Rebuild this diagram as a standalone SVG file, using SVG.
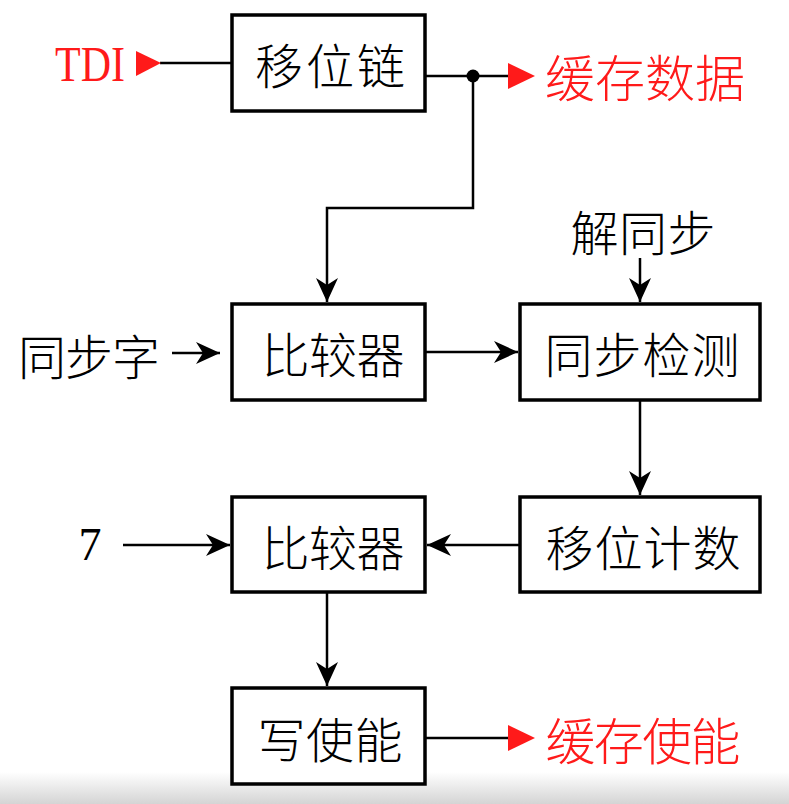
<svg xmlns="http://www.w3.org/2000/svg" width="789" height="804" viewBox="0 0 789 804">
<defs>
<linearGradient id="shade" x1="0" y1="0" x2="0" y2="1">
<stop offset="0" stop-color="#ffffff"/>
<stop offset="1" stop-color="#d4d4d4"/>
</linearGradient>
<marker id="ah" viewBox="0 0 24 22" refX="24" refY="11" markerWidth="24" markerHeight="22" markerUnits="userSpaceOnUse" orient="auto">
<path d="M0,0 L24,11 L0,22 L7,11 Z" fill="#000"/>
</marker>
</defs>
<style>
.box{fill:#fff;stroke:#000;stroke-width:3.5}
.ln{fill:none;stroke:#000;stroke-width:2.5}
.lbl{font-family:"Noto Sans CJK SC","Noto Sans CJK JP",sans-serif;font-size:48px;font-weight:300;fill:#000;text-anchor:middle;dominant-baseline:central}
.red{fill:#ff1a1a}
.tri{fill:#ff1a1a}
</style>
<rect x="0" y="0" width="789" height="804" fill="#fff"/>
<rect x="0" y="772" width="789" height="32" fill="url(#shade)"/>

<g id="connectors">
<line class="ln" x1="160" y1="63" x2="232" y2="63"/>
<polygon class="tri" points="136,51 161,63 136,76"/>
<line class="ln" x1="425" y1="76" x2="510" y2="76"/>
<circle cx="473" cy="76" r="6.5" fill="#000"/>
<polygon class="tri" points="508,63 535,76 508,89"/>
<polyline class="ln" points="473,76 473,208 327,208 327,302" marker-end="url(#ah)"/>
<line class="ln" x1="640" y1="258" x2="640" y2="302" marker-end="url(#ah)"/>
<line class="ln" x1="172" y1="353" x2="220" y2="353" marker-end="url(#ah)"/>
<line class="ln" x1="425" y1="352" x2="518" y2="352" marker-end="url(#ah)"/>
<line class="ln" x1="640" y1="400" x2="640" y2="495" marker-end="url(#ah)"/>
<line class="ln" x1="520" y1="545" x2="427" y2="545" marker-end="url(#ah)"/>
<line class="ln" x1="123" y1="545" x2="230" y2="545" marker-end="url(#ah)"/>
<line class="ln" x1="327" y1="592" x2="327" y2="686" marker-end="url(#ah)"/>
<line class="ln" x1="425" y1="738" x2="510" y2="738"/>
<polygon class="tri" points="508,725 535,738 508,751"/>
</g>

<g id="n-tdi"><text x="90" y="64" font-family="Liberation Serif, serif" font-size="50" fill="#ff1a1a" text-anchor="middle" dominant-baseline="central" textLength="70" lengthAdjust="spacingAndGlyphs">TDI</text></g>
<g id="n-shift"><rect class="box" x="232" y="15" width="193" height="96"/><text class="lbl" x="330" y="63" textLength="150">移位链</text></g>
<g id="n-bufdata"><text class="lbl red" x="645" y="75" style="font-size:50px" textLength="200">缓存数据</text></g>
<g id="n-desync"><text class="lbl" x="643" y="230" textLength="145">解同步</text></g>
<g id="n-syncword"><text class="lbl" x="89" y="354" textLength="142">同步字</text></g>
<g id="n-cmp1"><rect class="box" x="232" y="304" width="193" height="96"/><text class="lbl" x="333" y="352" textLength="143">比较器</text></g>
<g id="n-syncdet"><rect class="box" x="520" y="304" width="240" height="96"/><text class="lbl" x="642" y="352" textLength="195">同步检测</text></g>
<g id="n-seven"><text x="90" y="544" font-family="Liberation Serif, serif" font-size="46" fill="#000" text-anchor="middle" dominant-baseline="central">7</text></g>
<g id="n-cmp2"><rect class="box" x="232" y="497" width="193" height="95"/><text class="lbl" x="333" y="545" textLength="143">比较器</text></g>
<g id="n-shiftcnt"><rect class="box" x="520" y="497" width="240" height="95"/><text class="lbl" x="643" y="545" textLength="195">移位计数</text></g>
<g id="n-wren"><rect class="box" x="232" y="688" width="193" height="96"/><text class="lbl" x="330" y="737" textLength="145">写使能</text></g>
<g id="n-bufen"><text class="lbl red" x="643" y="738" style="font-size:50px" textLength="195">缓存使能</text></g>
</svg>
